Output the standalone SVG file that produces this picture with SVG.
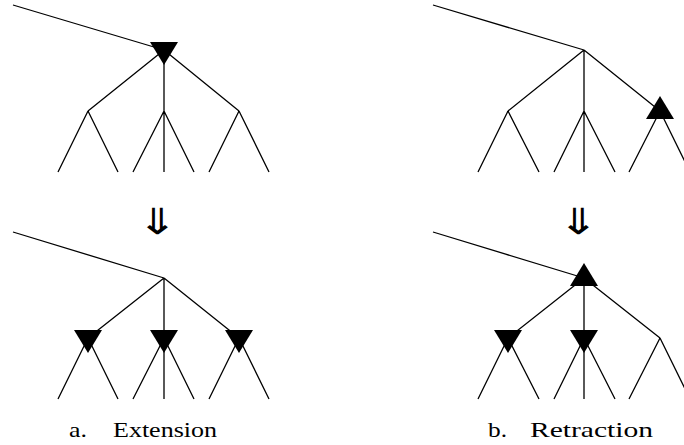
<svg xmlns="http://www.w3.org/2000/svg" width="684" height="445" viewBox="0 0 684 445">
<style>
.e{stroke:#000;stroke-width:1.3;fill:none;stroke-linecap:butt}
.t{fill:#000;stroke:none}
.lbl{font-family:"Liberation Serif","DejaVu Serif",serif;font-size:21px;fill:#000}
.arr{font-family:"DejaVu Sans",sans-serif;font-weight:200;font-size:36px;fill:#000;text-anchor:middle}
</style>
<defs>
<polygon id="dn" class="t" points="-14,-8 14,-8 0,15"/>
<polygon id="up" class="t" points="-14,8 14,8 0,-15"/>
</defs>
<g id="connectors" class="e">
<path d="M13,5 L164,50 M164,50 L88,111 M164,50 L164,172 M164,50 L239,111 M88,111 L58,172 M88,111 L118,172 M164,111 L133,172 M164,111 L194,172 M239,111 L209,172 M239,111 L269,172"/>
<path d="M433,5 L584,50 M584,50 L508,111 M584,50 L584,172 M584,50 L660,111 M508,111 L478,172 M508,111 L539,172 M584,111 L554,172 M584,111 L615,172 M660,111 L629,172 M660,111 L690,172"/>
<path d="M13,232 L164,278 M164,278 L88,338 M164,278 L164,399 M164,278 L239,338 M88,338 L58,399 M88,338 L118,399 M164,338 L133,399 M164,338 L194,399 M239,338 L209,399 M239,338 L269,399"/>
<path d="M433,232 L584,278 M584,278 L508,338 M584,278 L584,399 M584,278 L660,338 M508,338 L478,399 M508,338 L539,399 M584,338 L554,399 M584,338 L615,399 M660,338 L629,399 M660,338 L690,399"/>
</g>
<g id="n-tl-root"><use href="#dn" x="164" y="50"/></g>
<g id="n-tr-right"><use href="#up" x="660" y="111"/></g>
<g id="n-bl-c1"><use href="#dn" x="88" y="338"/></g>
<g id="n-bl-c2"><use href="#dn" x="164" y="338"/></g>
<g id="n-bl-c3"><use href="#dn" x="239" y="338"/></g>
<g id="n-br-root"><use href="#up" x="584" y="278"/></g>
<g id="n-br-c1"><use href="#dn" x="508" y="338"/></g>
<g id="n-br-c2"><use href="#dn" x="584" y="338"/></g>
<g id="arrows">
<text class="arr" transform="translate(157,234) scale(1.35,1)">⇓</text>
<text class="arr" transform="translate(578,234) scale(1.35,1)">⇓</text>
</g>
<g id="captions">
<text class="lbl" x="69" y="437" textLength="18" lengthAdjust="spacingAndGlyphs">a.</text>
<text class="lbl" x="113" y="437" textLength="104" lengthAdjust="spacingAndGlyphs">Extension</text>
<text class="lbl" x="488" y="437" textLength="19" lengthAdjust="spacingAndGlyphs">b.</text>
<text class="lbl" x="530" y="437" textLength="123" lengthAdjust="spacingAndGlyphs">Retraction</text>
</g>
</svg>
